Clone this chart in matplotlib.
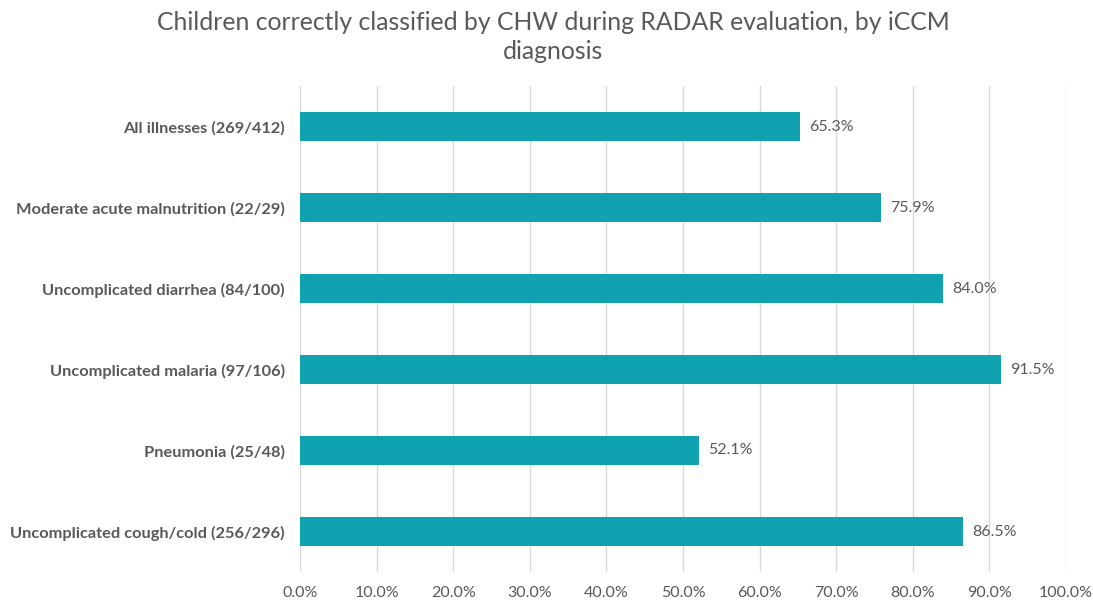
import matplotlib
matplotlib.use("Agg")
import matplotlib.pyplot as plt
from matplotlib.ticker import FuncFormatter

categories = [
    "All illnesses (269/412)",
    "Moderate acute malnutrition (22/29)",
    "Uncomplicated diarrhea (84/100)",
    "Uncomplicated malaria (97/106)",
    "Pneumonia (25/48)",
    "Uncomplicated cough/cold (256/296)",
]
values = [65.3, 75.9, 84.0, 91.5, 52.1, 86.5]
xticks = [0, 10, 20, 30, 40, 50, 60, 70, 80, 90, 100]

bar_color = "#10A2B1"
text_color = "#595959"

plt.rcParams["font.family"] = ["Lato", "DejaVu Sans"]

fig = plt.figure(figsize=(10.93, 6.01), dpi=100)
ax = fig.add_axes([300/1093, 1 - 572/601, 766/1093, (572 - 86)/601])

ypos = list(range(len(categories)))
ax.barh(ypos, values, height=0.35, color=bar_color, zorder=3)
for y, v in zip(ypos, values):
    ax.text(v + 1.2, y, f"{v:.1f}%", va="center", ha="left", fontsize=11.5, color=text_color)

ax.set_xlim(0, 100)
ax.set_ylim(len(categories) - 0.5, -0.5)
ax.set_yticks(ypos)
ax.set_yticklabels(categories, fontsize=11.8, fontweight="bold", color=text_color)
ax.set_xticks(xticks)
ax.xaxis.set_major_formatter(FuncFormatter(lambda x, p: f"{x:.1f}%"))
ax.tick_params(axis="x", labelsize=11.5, colors=text_color, length=0, pad=10)
ax.tick_params(axis="y", length=0, pad=11)
ax.grid(axis="x", color="#D9D9D9", linewidth=1, zorder=0)
for s in ax.spines.values():
    s.set_visible(False)

fig.text(553/1093, 1 - 37/601, "Children correctly classified by CHW during RADAR evaluation, by iCCM\ndiagnosis",
         ha="center", va="center", fontsize=17.8, color=text_color, linespacing=1.35)

fig.savefig("out.png", dpi=100)
